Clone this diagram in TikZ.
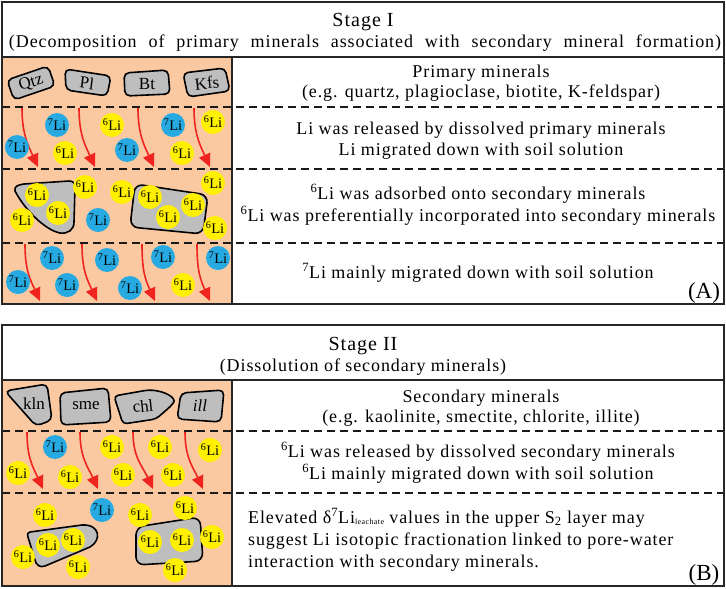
\documentclass[tikz,border=0pt]{standalone}
\usepackage{fontspec}
\setmainfont{Liberation Serif}
\newfontfamily\spfont{Liberation Serif}[LetterSpace=5]
\usetikzlibrary{arrows.meta}
\definecolor{bg}{RGB}{250,201,162}
\definecolor{mgrey}{RGB}{190,190,190}
\definecolor{lblue}{RGB}{38,170,225}
\definecolor{lyel}{RGB}{255,240,0}
\definecolor{ared}{RGB}{240,36,30}
\newcommand\Lis[1]{\textsuperscript{#1}Li}
\newcommand\wavy[4]{\draw[redarr] (#1,#2) .. controls +(0,26) and +(-10,-22) .. (#3,#4);}
\begin{document}
\begin{tikzpicture}[x=1pt,y=-1pt,
  frame/.style={draw=black!85, line width=1.6pt},
  sep/.style={draw=black!90, line width=1.5pt, dash pattern=on 8pt off 5pt},
  mineral/.style={draw=black, fill=mgrey, line width=1.6pt, rounded corners=5pt},
  mtext/.style={font=\fontsize{17}{17}\selectfont, inner sep=0pt},
  redarr/.style={draw=ared, line width=1.6pt, -{Triangle[length=13pt,width=12pt]}},
  li/.style={circle, minimum size=24pt, inner sep=0pt, font=\fontsize{14.5}{14.5}\selectfont},
  li7/.style={li, fill=lblue},
  li6/.style={li, fill=lyel},
  txt/.style={font=\fontsize{18}{18}\selectfont\spfont, anchor=base, inner sep=0pt},
  ltxt/.style={txt, anchor=base west},
  ttl/.style={font=\fontsize{20}{20}\selectfont\spfont, anchor=base, inner sep=0pt},
  tag/.style={font=\fontsize{23}{23}\selectfont, anchor=base, inner sep=0pt}]
\useasboundingbox (0,0) rectangle (726,589);

% ================= Panel A =================
\fill[bg] (2,57) rectangle (232,304);
\draw[sep] (2,107) -- (724,107);
\draw[sep] (2,169) -- (724,169);
\draw[sep] (2,243) -- (724,243);
\draw[frame] (2,2) rectangle (724,304);
\draw[frame] (2,57) -- (724,57);
\draw[frame] (232,57) -- (232,304);

\node[ttl] (tA) at (363,26) {Stage I};
\node[txt] (sA) at (365,47) {\makebox[712pt][s]{(Decomposition of primary minerals associated with secondary mineral formation)}};

% primary minerals
\draw[mineral] (7,80) -- (48,66) -- (55,86) -- (14,100) -- cycle;
\node[mtext, rotate=18] (qtz) at (31,83) {Qtz};
\draw[mineral] (65,69) -- (111,76) -- (107,96) -- (66,90) -- cycle;
\node[mtext, rotate=-7] (pl) at (87,83) {Pl};
\draw[mineral] (124,73) -- (168,70) -- (170,94) -- (125,96) -- cycle;
\node[mtext] (bt) at (147,84) {Bt};
\draw[mineral] (183,73) -- (225,68) -- (230,91) -- (188,97) -- cycle;
\node[mtext, rotate=6] (kfs) at (207,83) {Kfs};

% row 2 arrows and Li
\wavy{22}{108}{38}{167}
\wavy{79}{108}{95}{167}
\wavy{138}{108}{154}{167}
\wavy{194}{108}{210}{167}
\node[li7] (a1) at (57,125) {\Lis{7}};
\node[li6] (a2) at (112,125) {\Lis{6}};
\node[li7] (a3) at (173,125) {\Lis{7}};
\node[li6] (a4) at (213,122) {\Lis{6}};
\node[li7] (a5) at (17,147) {\Lis{7}};
\node[li6] (a6) at (65,153) {\Lis{6}};
\node[li7] (a7) at (127,150) {\Lis{7}};
\node[li6] (a8) at (182,153) {\Lis{6}};

% row 3 secondary minerals
\draw[draw=black, fill=mgrey, line width=1.6pt] (15,191) .. controls (14,186) and (18,185) .. (24,184) -- (69,181) .. controls (73,181) and (75,183) .. (75,187) -- (74,222) .. controls (74,230) and (68,234) .. (60,233) .. controls (45,230) and (25,210) .. (15,191) -- cycle;
\draw[mineral, rounded corners=8pt] (135,184) -- (208,195) -- (203,234) -- (130,227) -- cycle;
\node[li6] (b1) at (37,195) {\Lis{6}};
\node[li6] (b2) at (58,213) {\Lis{6}};
\node[li6] (b3) at (22,220) {\Lis{6}};
\node[li6] (b4) at (85,187) {\Lis{6}};
\node[li7] (b5) at (98,220) {\Lis{7}};
\node[li6] (b6) at (122,192) {\Lis{6}};
\node[li6] (b7) at (150,197) {\Lis{6}};
\node[li6] (b8) at (168,217) {\Lis{6}};
\node[li6] (b9) at (193,205) {\Lis{6}};
\node[li6] (b10) at (213,183) {\Lis{6}};
\node[li6] (b11) at (215,228) {\Lis{6}};

% row 4
\wavy{25}{244}{40}{301}
\wavy{82}{244}{97}{301}
\wavy{142}{244}{155}{301}
\wavy{197}{244}{210}{301}
\node[li7] (c1) at (52,258) {\Lis{7}};
\node[li7] (c2) at (107,260) {\Lis{7}};
\node[li7] (c3) at (163,257) {\Lis{7}};
\node[li7] (c4) at (218,258) {\Lis{7}};
\node[li7] (c5) at (18,282) {\Lis{7}};
\node[li7] (c6) at (67,285) {\Lis{7}};
\node[li7] (c7) at (130,288) {\Lis{7}};
\node[li6] (c8) at (183,285) {\Lis{6}};

% right texts A
\node[txt] (tA1) at (481,77) {Primary minerals};
\node[txt] (tA2) at (481,97) {(e.g. quartz, plagioclase, biotite, K-feldspar)};
\node[txt] (tA3) at (481,134) {Li was released by dissolved primary minerals};
\node[txt] (tA4) at (481,155) {Li migrated down with soil solution};
\node[txt] (tA5) at (478,199) {\Lis{6} was adsorbed onto secondary minerals};
\node[txt] (tA6) at (478,221) {\Lis{6} was preferentially incorporated into secondary minerals};
\node[txt] (tA7) at (478,278) {\Lis{7} mainly migrated down with soil solution};
\node[tag] (labA) at (704,298) {(A)};

% ================= Panel B =================
\fill[bg] (2,380) rectangle (232,586);
\draw[sep] (2,431) -- (724,431);
\draw[sep] (2,493) -- (724,493);
\draw[frame] (2,325) rectangle (724,586);
\draw[frame] (2,380) -- (724,380);
\draw[frame] (232,380) -- (232,586);

\node[ttl] (tB) at (363,350) {Stage II};
\node[txt] (sB) at (363,371) {(Dissolution of secondary minerals)};

% secondary minerals
\draw[mineral] (5,391) -- (47,384) -- (52,420) -- (36,426) -- cycle;
\node[mtext] (kln) at (34,404) {kln};
\draw[mineral] (60,393) -- (108,388) -- (111,422) -- (61,425) -- cycle;
\node[mtext] (sme) at (86,406) {sme};
\draw[mineral, rounded corners=4pt] (114,396) -- (148,390) .. controls (165,391) and (177,398) .. (171,406) -- (156,419) -- (123,424) -- cycle;
\node[mtext, rotate=6] (chl) at (143,406) {chl};
\draw[mineral] (181,393) -- (224,390) -- (221,422) -- (177,419) -- cycle;
\node[mtext] (ill) at (200,406) {\itshape ill};

% row 2
\wavy{27}{432}{43}{489}
\wavy{80}{432}{98}{489}
\wavy{133}{432}{153}{489}
\wavy{185}{432}{203}{489}
\node[li7] (d1) at (55,447) {\Lis{7}};
\node[li6] (d2) at (112,447) {\Lis{6}};
\node[li6] (d3) at (160,447) {\Lis{6}};
\node[li6] (d4) at (210,450) {\Lis{6}};
\node[li6] (d5) at (18,473) {\Lis{6}};
\node[li6] (d6) at (70,477) {\Lis{6}};
\node[li6] (d7) at (123,475) {\Lis{6}};
\node[li6] (d8) at (173,475) {\Lis{6}};

% row 3
\draw[draw=black, fill=mgrey, line width=1.6pt] (30,532) -- (82,525) .. controls (100,524) and (102,540) .. (90,547) -- (45,566) .. controls (40,568) and (36,565) .. (35,560) -- (28,537) .. controls (27,534) and (28,532) .. (30,532) -- cycle;
\draw[mineral, rounded corners=8pt] (136,527) -- (200,517) -- (203,561) -- (136,565) -- cycle;
\node[li7] (e1) at (102,510) {\Lis{7}};
\node[li6] (e2) at (45,515) {\Lis{6}};
\node[li6] (e3) at (48,545) {\Lis{6}};
\node[li6] (e4) at (73,540) {\Lis{6}};
\node[li6] (e5) at (23,557) {\Lis{6}};
\node[li6] (e6) at (78,567) {\Lis{6}};
\node[li6] (e7) at (140,515) {\Lis{6}};
\node[li6] (e8) at (185,508) {\Lis{6}};
\node[li6] (e9) at (150,542) {\Lis{6}};
\node[li6] (e10) at (182,540) {\Lis{6}};
\node[li6] (e11) at (212,537) {\Lis{6}};
\node[li6] (e12) at (175,570) {\Lis{6}};

% right texts B
\node[txt] (tB1) at (481,402) {Secondary minerals};
\node[txt] (tB2) at (481,422) {(e.g. kaolinite, smectite, chlorite, illite)};
\node[txt] (tB3) at (478,457) {\Lis{6} was released by dissolved secondary minerals};
\node[txt] (tB4) at (478,479) {\Lis{6} mainly migrated down with soil solution};
\node[ltxt] (tB5) at (248,523) {Elevated δ\textsuperscript{7}Li\raisebox{-1pt}{\fontsize{8}{8}\selectfont leachate} values in the upper S\textsubscript{2} layer may};
\node[ltxt] (tB6) at (248,545) {suggest Li isotopic fractionation linked to pore-water};
\node[ltxt] (tB7) at (248,567) {interaction with secondary minerals.};
\node[tag] (labB) at (704,580) {(B)};
\end{tikzpicture}
\end{document}
